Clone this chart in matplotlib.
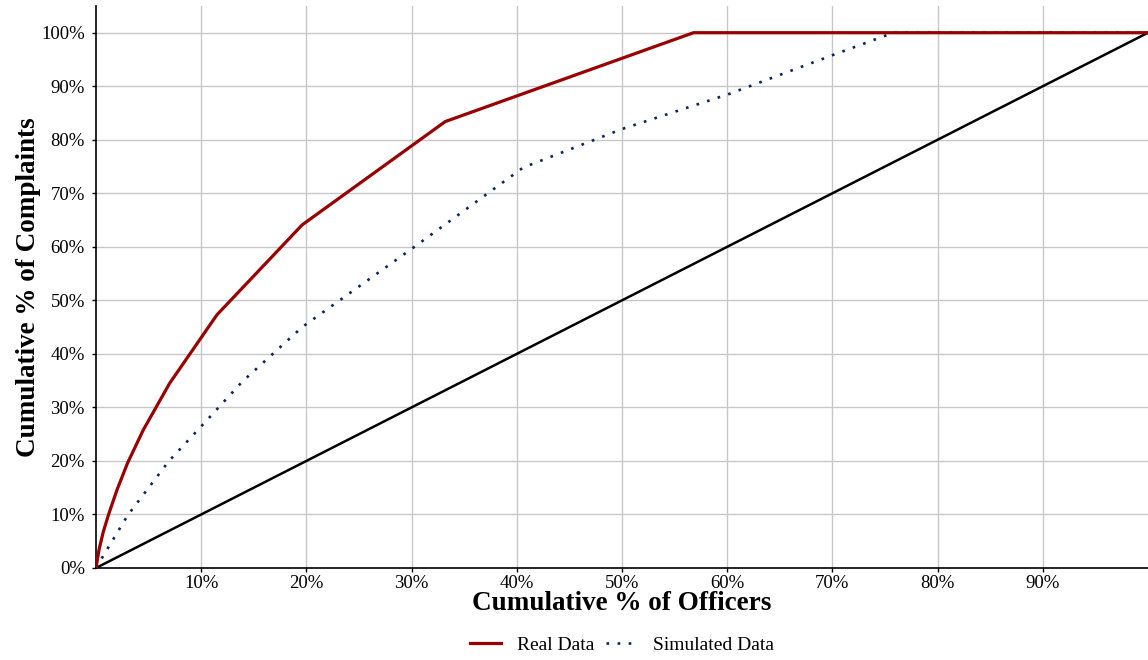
import matplotlib
matplotlib.use("Agg")
import matplotlib.pyplot as plt
from matplotlib.ticker import FuncFormatter

# cumulative % of officers / complaints
real_x = [0, 0.3, 0.7, 1.2, 2.0, 3.0, 4.5, 7.0, 11.5, 19.6, 33.2, 56.8, 100]
real_y = [0, 3.5, 6.8, 10.0, 14.6, 19.6, 25.8, 34.5, 47.3, 64.1, 83.4, 100, 100]

sim_x = [0, 3.0, 6.9, 10.4, 13.9, 19.6, 30.2, 40.6, 50.0, 60.1, 70.0, 75.8, 100]
sim_y = [0, 9.8, 19.9, 27.3, 34.8, 45.0, 59.9, 74.8, 82.0, 88.5, 95.8, 100, 100]

diag_x = [0, 100]
diag_y = [0, 100]

x_ticks = [10, 20, 30, 40, 50, 60, 70, 80, 90]
y_ticks = [0, 10, 20, 30, 40, 50, 60, 70, 80, 90, 100]

plt.rcParams['font.family'] = ['Liberation Serif', 'DejaVu Serif']

fig = plt.figure(figsize=(11.48, 6.6), dpi=100)
ax = fig.add_axes([0.0836, 0.1394, 0.9164, 0.8516])

ax.plot(diag_x, diag_y, color='black', lw=1.8, zorder=3)
ax.plot(sim_x, sim_y, color='#0a2558', lw=1.9, linestyle=(0, (1, 3.2)),
        label='Simulated Data', zorder=4)
ax.plot(real_x, real_y, color='#990000', lw=2.3, label='Real Data', zorder=5)

ax.set_xlim(0, 100)
ax.set_ylim(0, 105)
ax.set_xticks(x_ticks)
ax.set_yticks(y_ticks)
pct = FuncFormatter(lambda v, p: f'{v:.0f}%')
ax.xaxis.set_major_formatter(pct)
ax.yaxis.set_major_formatter(pct)
ax.tick_params(labelsize=13.5, length=3, width=1, colors='black', pad=2)
ax.tick_params(axis='y', pad=5)

ax.grid(True, color='#c8c8c8', lw=1)
ax.set_axisbelow(True)
for s in ['top', 'right']:
    ax.spines[s].set_visible(False)
ax.spines['left'].set_linewidth(1.2)
ax.spines['bottom'].set_linewidth(1.2)

ax.set_xlabel('Cumulative % of Officers', fontsize=19.5, fontweight='bold', labelpad=-1)
ax.set_ylabel('Cumulative % of Complaints', fontsize=19.5, fontweight='bold', labelpad=0)

handles, labels = ax.get_legend_handles_labels()
ax.legend(handles[::-1], labels[::-1], loc='upper center', bbox_to_anchor=(0.5, -0.09),
          ncol=2, frameon=False, fontsize=14, handlelength=1.6, columnspacing=0.6,
          handletextpad=0.8)

fig.savefig('out.png', dpi=100)
